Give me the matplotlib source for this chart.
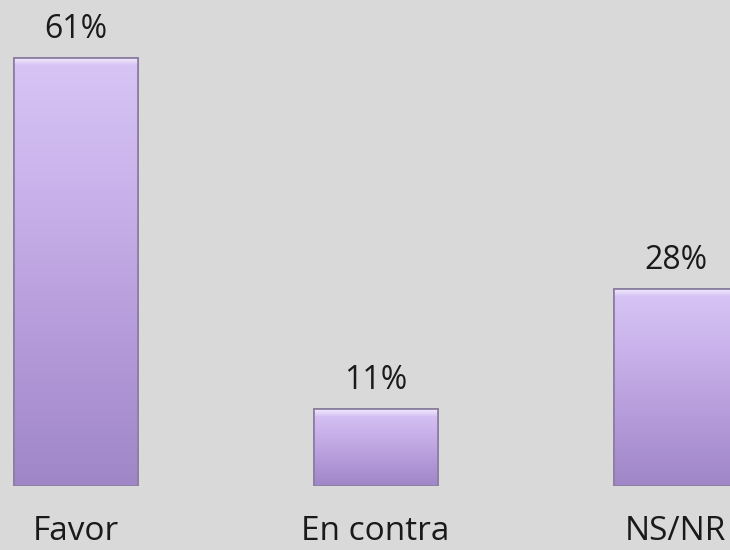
import matplotlib
matplotlib.use("Agg")
import matplotlib.pyplot as plt
import numpy as np
from matplotlib.colors import LinearSegmentedColormap

categories = ["Favor", "En contra", "NS/NR"]
values = [61, 11, 28]
value_labels = ["61%", "11%", "28%"]

W, H = 730, 550
fig = plt.figure(figsize=(W / 100, H / 100), dpi=100)
fig.patch.set_facecolor("#d9d9d9")

base_px = 486
ax = fig.add_axes([0, (H - base_px) / H, 1, base_px / H])
ax.set_facecolor("#d9d9d9")
px_per_unit = 7.02
ax.set_ylim(0, base_px / px_per_unit)
ax.set_xlim(-75.5 / 300, (W - 75.5) / 300)
for s in ax.spines.values():
    s.set_visible(False)
ax.set_xticks([])
ax.set_yticks([])

x = np.arange(len(categories))
width = 124 / 300
bars = ax.bar(x, values, width=width, color="#bda5e0", edgecolor="#8c7fa2",
              linewidth=1.3, zorder=2)

cmap = LinearSegmentedColormap.from_list("g", ["#9f86c7", "#b49ad9", "#c8b1ea", "#d8c5f5"])
grad = np.linspace(0, 1, 256).reshape(-1, 1)
hl_cmap = LinearSegmentedColormap.from_list("h", ["#d8c5f5", "#f3ecfc"])
hl = np.linspace(0, 1, 64).reshape(-1, 1)
hl_h = 7 / px_per_unit
for b in bars:
    x0, y0 = b.get_x(), b.get_y()
    w, h = b.get_width(), b.get_height()
    im = ax.imshow(grad, extent=[x0, x0 + w, y0, y0 + h], origin="lower",
                   cmap=cmap, aspect="auto", zorder=2.5, interpolation="bicubic")
    im.set_clip_path(b)
    im2 = ax.imshow(hl, extent=[x0, x0 + w, y0 + h - hl_h, y0 + h], origin="lower",
                    cmap=hl_cmap, aspect="auto", zorder=2.6, interpolation="bicubic")
    im2.set_clip_path(b)
    ax.bar(b.get_x() + w / 2, h, width=w, fill=False, edgecolor="#8c7fa2",
           linewidth=1.3, zorder=3)

for xi, v, lab in zip(x, values, value_labels):
    ax.text(xi, v + 20 / px_per_unit, lab, ha="center", va="baseline", fontsize=23,
            family=["Open Sans", "DejaVu Sans"], color="#1a1a1a", zorder=4)

for xi, c in zip(x, categories):
    fig.text((75.5 + 300 * xi) / W, 1 - 548 / H, c, ha="center", va="bottom",
             fontsize=24, family=["Open Sans", "DejaVu Sans"], color="#1a1a1a")

fig.savefig("out.png", dpi=100, facecolor=fig.get_facecolor())
